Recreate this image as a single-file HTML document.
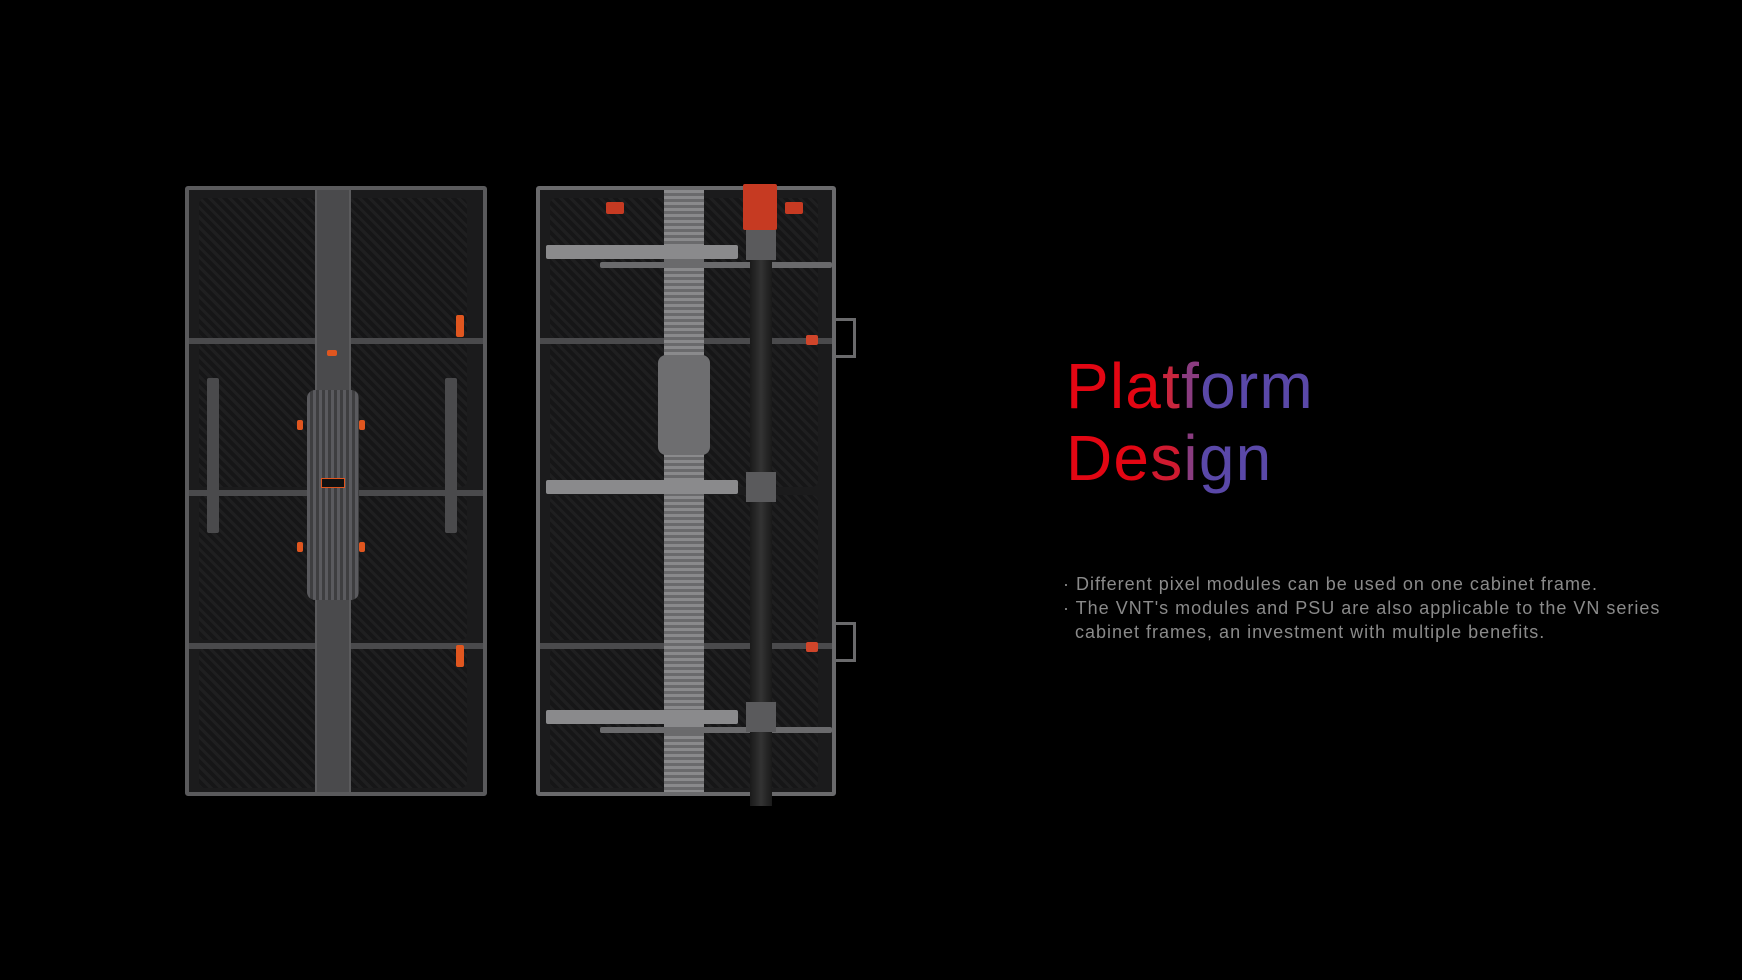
<!DOCTYPE html>
<html><head><meta charset="utf-8"><style>
*{margin:0;padding:0;box-sizing:border-box}
body{width:1742px;height:980px;background:#000;position:relative;overflow:hidden;font-family:"Liberation Sans",sans-serif}
.a{position:absolute}
.cab{position:absolute;border:4px solid #5a5a5c;background:#1b1b1c;border-radius:3px}
.panel{position:absolute;background:repeating-linear-gradient(45deg,#1f1f20 0 3px,#161617 3px 7px);border-radius:6px}
.bar{position:absolute;background:#4a4a4c}
.lbar{position:absolute;background:#8a8a8c;border-radius:2px}
.or{position:absolute;background:#e0561f;border-radius:2px}
h1{position:absolute;left:1066px;top:350px;font-weight:normal;font-size:64px;line-height:72px;letter-spacing:1.2px}
.t{position:absolute;left:1063px;top:572px;color:#8a8a8a;font-size:18px;line-height:24px;letter-spacing:1px;white-space:pre}
</style></head><body>

<div class="cab" style="left:185px;top:186px;width:302px;height:610px">
  <div class="panel" style="left:10px;top:8px;width:118px;height:140px"></div>
  <div class="panel" style="left:160px;top:8px;width:118px;height:140px"></div>
  <div class="panel" style="left:10px;top:152px;width:118px;height:145px"></div>
  <div class="panel" style="left:160px;top:152px;width:118px;height:145px"></div>
  <div class="panel" style="left:10px;top:305px;width:118px;height:145px"></div>
  <div class="panel" style="left:160px;top:305px;width:118px;height:145px"></div>
  <div class="panel" style="left:10px;top:458px;width:118px;height:140px"></div>
  <div class="panel" style="left:160px;top:458px;width:118px;height:140px"></div>
  <div class="bar" style="left:0;top:148px;width:294px;height:6px"></div>
  <div class="bar" style="left:0;top:300px;width:294px;height:6px"></div>
  <div class="bar" style="left:0;top:453px;width:294px;height:6px"></div>
  <div class="a" style="left:126px;top:0;width:36px;height:602px;background:#4a4a4c;border-left:2px solid #5a5a5c;border-right:2px solid #5a5a5c"></div>
  <div class="a" style="left:118px;top:200px;width:52px;height:210px;background:repeating-linear-gradient(90deg,#5a5a5e 0 3px,#3e3e40 3px 6px);border-radius:8px"></div>
  <div class="a" style="left:132px;top:288px;width:24px;height:10px;border:1px solid #e0561f;background:#111"></div>
  <div class="or" style="left:138px;top:160px;width:10px;height:6px"></div>
  <div class="or" style="left:108px;top:230px;width:6px;height:10px"></div>
  <div class="or" style="left:170px;top:230px;width:6px;height:10px"></div>
  <div class="or" style="left:108px;top:352px;width:6px;height:10px"></div>
  <div class="or" style="left:170px;top:352px;width:6px;height:10px"></div>
  <div class="or" style="left:267px;top:125px;width:8px;height:22px"></div>
  <div class="or" style="left:267px;top:455px;width:8px;height:22px"></div>
  <div class="lbar" style="left:18px;top:188px;width:12px;height:155px;background:#4a4a4c"></div>
  <div class="lbar" style="left:256px;top:188px;width:12px;height:155px;background:#4a4a4c"></div>
</div>

<div class="cab" style="left:536px;top:186px;width:300px;height:610px;border-color:#6a6a6c">
  <div class="panel" style="left:10px;top:8px;width:118px;height:140px"></div>
  <div class="panel" style="left:160px;top:8px;width:118px;height:140px"></div>
  <div class="panel" style="left:10px;top:152px;width:118px;height:145px"></div>
  <div class="panel" style="left:160px;top:152px;width:118px;height:145px"></div>
  <div class="panel" style="left:10px;top:305px;width:118px;height:145px"></div>
  <div class="panel" style="left:160px;top:305px;width:118px;height:145px"></div>
  <div class="panel" style="left:10px;top:458px;width:118px;height:140px"></div>
  <div class="panel" style="left:160px;top:458px;width:118px;height:140px"></div>
  <div class="bar" style="left:0;top:148px;width:292px;height:6px"></div>
  <div class="bar" style="left:0;top:453px;width:292px;height:6px"></div>
  <div class="a" style="left:124px;top:0;width:40px;height:602px;background:repeating-linear-gradient(180deg,#8a8a8c 0 3px,#6a6a6c 3px 6px)"></div>
  <div class="a" style="left:118px;top:165px;width:52px;height:100px;background:#6e6e70;border-radius:8px"></div>
  <div class="lbar" style="left:6px;top:55px;width:192px;height:14px"></div>
  <div class="lbar" style="left:6px;top:290px;width:192px;height:14px"></div>
  <div class="lbar" style="left:6px;top:520px;width:192px;height:14px"></div>
  <div class="lbar" style="left:60px;top:72px;width:232px;height:6px;background:#6a6a6c"></div>
  <div class="lbar" style="left:60px;top:537px;width:232px;height:6px;background:#6a6a6c"></div>
  <div class="a" style="left:210px;top:16px;width:22px;height:600px;background:linear-gradient(90deg,#1a1a1a,#333,#1a1a1a)"></div>
  <div class="a" style="left:206px;top:40px;width:30px;height:30px;background:#5a5a5c"></div>
  <div class="a" style="left:206px;top:282px;width:30px;height:30px;background:#5a5a5c"></div>
  <div class="a" style="left:206px;top:512px;width:30px;height:30px;background:#5a5a5c"></div>
  <div class="or" style="left:203px;top:-6px;width:34px;height:46px;background:#c63a22"></div>
  <div class="or" style="left:66px;top:12px;width:18px;height:12px;background:#c63a22"></div>
  <div class="or" style="left:245px;top:12px;width:18px;height:12px;background:#c63a22"></div>
  <div class="or" style="left:266px;top:145px;width:12px;height:10px;background:#d0452a"></div>
  <div class="or" style="left:266px;top:452px;width:12px;height:10px;background:#d0452a"></div>
</div>
<div class="a" style="left:836px;top:318px;width:20px;height:40px;border:3px solid #6a6a6c;border-left:none"></div>
<div class="a" style="left:836px;top:622px;width:20px;height:40px;border:3px solid #6a6a6c;border-left:none"></div>

<h1><span style="color:#e30613">Pla</span><span style="color:#c8263e">t</span><span style="color:#8a3c80">f</span><span style="color:#5a48a8">orm</span><br><span style="color:#e30613">De</span><span style="color:#d01a30">s</span><span style="color:#8a3c80">i</span><span style="color:#5a48a8">gn</span></h1>

<div class="t">· Different pixel modules can be used on one cabinet frame.
· The VNT's modules and PSU are also applicable to the VN series
  cabinet frames, an investment with multiple benefits.</div>
</body></html>
